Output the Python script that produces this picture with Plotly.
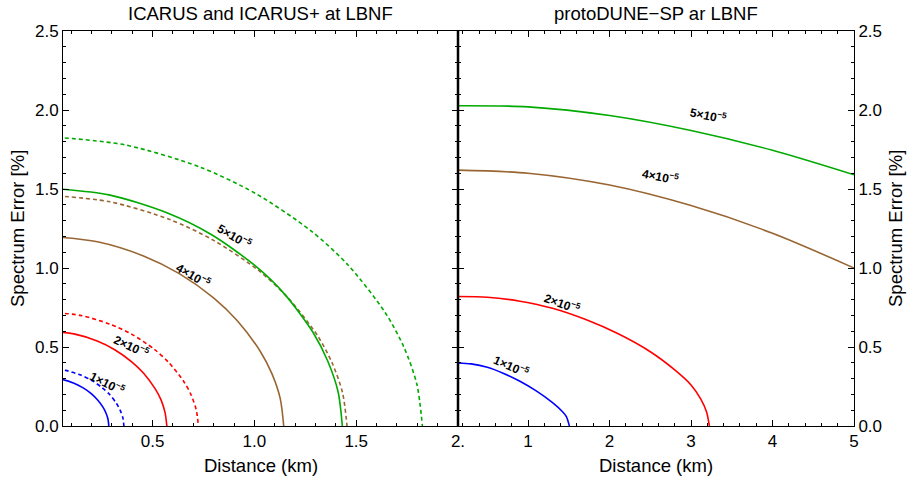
import plotly.graph_objects as go

# ---------------- data ----------------
# Left panel: ICARUS (solid) / ICARUS+ (dashed); distance (km) vs spectrum error (%)
ic_1e5_d = [0, 0.057, 0.114, 0.157, 0.200, 0.228, 0.257, 0.271, 0.281, 0.285]
ic_1e5_e = [0.302, 0.294, 0.271, 0.243, 0.204, 0.168, 0.118, 0.082, 0.043, 0]
icp_1e5_d = [0, 0.072, 0.144, 0.197, 0.251, 0.287, 0.323, 0.341, 0.354, 0.359]
icp_1e5_e = [0.362, 0.352, 0.324, 0.291, 0.244, 0.202, 0.142, 0.099, 0.052, 0]
ic_2e5_d = [0, 0.114, 0.228, 0.314, 0.399, 0.456, 0.513, 0.542, 0.561, 0.570]
ic_2e5_e = [0.600, 0.583, 0.538, 0.483, 0.405, 0.334, 0.235, 0.164, 0.086, 0]
icp_2e5_d = [0, 0.145, 0.290, 0.399, 0.508, 0.580, 0.653, 0.689, 0.714, 0.725]
icp_2e5_e = [0.720, 0.700, 0.645, 0.580, 0.486, 0.401, 0.282, 0.197, 0.104, 0]
ic_4e5_d = [0, 0.229, 0.458, 0.629, 0.801, 0.915, 1.030, 1.087, 1.127, 1.144]
ic_4e5_e = [1.200, 1.166, 1.075, 0.966, 0.810, 0.668, 0.470, 0.328, 0.173, 0]
icp_4e5_d = [0, 0.291, 0.582, 0.800, 1.019, 1.164, 1.310, 1.382, 1.433, 1.455]
icp_4e5_e = [1.460, 1.419, 1.308, 1.175, 0.986, 0.813, 0.572, 0.399, 0.210, 0]
ic_5e5_d = [0, 0.286, 0.573, 0.788, 1.002, 1.146, 1.289, 1.360, 1.411, 1.432]
ic_5e5_e = [1.505, 1.463, 1.348, 1.212, 1.016, 0.838, 0.590, 0.411, 0.217, 0]
icp_5e5_d = [0, 0.365, 0.730, 1.004, 1.278, 1.460, 1.643, 1.734, 1.798, 1.825]
icp_5e5_e = [1.830, 1.779, 1.640, 1.473, 1.235, 1.019, 0.717, 0.500, 0.264, 0]

# Right panel: protoDUNE-SP
pd_1e5_d = [0.1, 0.3, 0.5, 0.7, 0.9, 1.1, 1.3, 1.42, 1.47, 1.507]
pd_1e5_e = [0.400, 0.393, 0.372, 0.333, 0.283, 0.222, 0.148, 0.092, 0.060, 0]
pd_2e5_d = [0.1, 0.5, 0.9, 1.3, 1.7, 2.1, 2.5, 2.8, 3.0, 3.12, 3.19, 3.225]
pd_2e5_e = [0.82, 0.815, 0.79, 0.745, 0.675, 0.585, 0.47, 0.355, 0.26, 0.17, 0.09, 0]
pd_4e5_d = [0.1, 1.0, 2.0, 3.0, 4.0, 5.0]
pd_4e5_e = [1.62, 1.60, 1.525, 1.395, 1.22, 1.00]
pd_5e5_d = [0.1, 1.0, 2.0, 3.0, 4.0, 5.0]
pd_5e5_e = [2.027, 2.02, 1.965, 1.87, 1.745, 1.59]

# contour label texts and positions (data coords)
lbl_text = ["1×10<sup>−5</sup>", "2×10<sup>−5</sup>", "4×10<sup>−5</sup>", "5×10<sup>−5</sup>"]
lbl_left_d = [0.279, 0.397, 0.70, 0.903]
lbl_left_e = [0.272, 0.506, 0.955, 1.20]
lbl_left_ang = [27, 25, 30, 30]
lbl_right_d = [0.80, 1.42, 2.62, 3.21]
lbl_right_e = [0.38, 0.78, 1.58, 1.97]
lbl_right_ang = [24, 20, 11, 12]

y_ticks = [0, 0.5, 1.0, 1.5, 2.0, 2.5]
x_left_ticks = [0.5, 1.0, 1.5, 2.0]
x_left_ticktext = ["0.5", "1.0", "1.5", "2."]
x_right_ticks = [1, 2, 3, 4, 5]

# ---------------- styling ----------------
BLUE, RED, BROWN, GREEN = "#0000ff", "#ff0000", "#996633", "#00aa00"
FONT = "Liberation Sans, Arial, sans-serif"
LW = 1.6
DASH = "4px,3px"

fig = go.Figure()

left_curves = [
    (ic_1e5_d, ic_1e5_e, BLUE, "solid"), (icp_1e5_d, icp_1e5_e, BLUE, DASH),
    (ic_2e5_d, ic_2e5_e, RED, "solid"), (icp_2e5_d, icp_2e5_e, RED, DASH),
    (ic_4e5_d, ic_4e5_e, BROWN, "solid"), (icp_4e5_d, icp_4e5_e, BROWN, DASH),
    (ic_5e5_d, ic_5e5_e, GREEN, "solid"), (icp_5e5_d, icp_5e5_e, GREEN, DASH),
]
for d, e, c, dash in left_curves:
    fig.add_trace(go.Scatter(x=d, y=e, mode="lines", xaxis="x", yaxis="y",
                             line=dict(color=c, width=LW, dash=dash, shape="spline", smoothing=0.8),
                             showlegend=False, hoverinfo="skip"))

right_curves = [
    (pd_1e5_d, pd_1e5_e, BLUE), (pd_2e5_d, pd_2e5_e, RED),
    (pd_4e5_d, pd_4e5_e, BROWN), (pd_5e5_d, pd_5e5_e, GREEN),
]
for d, e, c in right_curves:
    fig.add_trace(go.Scatter(x=d, y=e, mode="lines", xaxis="x2", yaxis="y2",
                             line=dict(color=c, width=LW, shape="spline", smoothing=0.8),
                             showlegend=False, hoverinfo="skip"))

annotations = []
lbl_font = dict(family=FONT, size=12, color="black")
for t, x, y, a in zip(lbl_text, lbl_left_d, lbl_left_e, lbl_left_ang):
    annotations.append(dict(text="<b>" + t + "</b>", x=x, y=y, xref="x", yref="y",
                            showarrow=False, textangle=a, font=lbl_font))
for t, x, y, a in zip(lbl_text, lbl_right_d, lbl_right_e, lbl_right_ang):
    annotations.append(dict(text="<b>" + t + "</b>", x=x, y=y, xref="x2", yref="y2",
                            showarrow=False, textangle=a, font=lbl_font))

title_font = dict(family=FONT, size=18.5, color="black")
annotations += [
    dict(text="ICARUS and ICARUS+ at LBNF", x=0.5, y=1, xref="x domain", yref="paper",
         yanchor="bottom", yshift=5, showarrow=False, font=title_font),
    dict(text="protoDUNE−SP ar LBNF", x=0.5, y=1, xref="x2 domain", yref="paper",
         yanchor="bottom", yshift=5, showarrow=False, font=title_font),
    dict(text="Distance (km)", x=0.5, y=0, xref="x domain", yref="paper",
         yanchor="top", yshift=-27, showarrow=False, font=title_font),
    dict(text="Distance (km)", x=0.5, y=0, xref="x2 domain", yref="paper",
         yanchor="top", yshift=-27, showarrow=False, font=title_font),
    dict(text="Spectrum Error [%]", x=0, y=0.5, xref="x domain", yref="paper",
         xanchor="right", xshift=-33, textangle=-90, showarrow=False, font=title_font),
    dict(text="Spectrum Error [%]", x=1, y=0.5, xref="x2 domain", yref="paper",
         xanchor="left", xshift=29, textangle=-90, showarrow=False, font=title_font),
]

tick_font = dict(family=FONT, size=17, color="black")
common = dict(showgrid=False, zeroline=False, showline=True, linecolor="black", linewidth=1,
              ticks="inside", ticklen=6, tickcolor="black", mirror="ticks",
              tickfont=tick_font)

split = 395 / 791
fig.update_layout(
    width=910, height=481,
    margin=dict(l=63, r=56, t=31, b=55),
    paper_bgcolor="white", plot_bgcolor="white",
    xaxis=dict(domain=[0, split], range=[0.06, 2.0], tickmode="array",
               tickvals=x_left_ticks, ticktext=x_left_ticktext, anchor="y",
               minor=dict(ticks="inside", tickmode="linear", tick0=0, dtick=0.1,
                          ticklen=3, tickcolor="black"), **common),
    yaxis=dict(domain=[0, 1], range=[0, 2.5], tickmode="array", tickvals=y_ticks,
               tickformat=".1f", anchor="x",
               minor=dict(ticks="inside", tickmode="linear", tick0=0, dtick=0.1,
                          ticklen=3, tickcolor="black"), **common),
    xaxis2=dict(domain=[split, 1], range=[0.14, 5.0], tickmode="array",
                tickvals=x_right_ticks, anchor="y2",
                minor=dict(ticks="inside", tickmode="linear", tick0=0, dtick=0.2,
                           ticklen=3, tickcolor="black"), **common),
    yaxis2=dict(domain=[0, 1], range=[0, 2.5], tickmode="array", tickvals=y_ticks,
                tickformat=".1f", anchor="x2", side="right",
                minor=dict(ticks="inside", tickmode="linear", tick0=0, dtick=0.1,
                           ticklen=3, tickcolor="black"), **common),
    annotations=annotations,
    shapes=[dict(type="line", xref="x2 domain", yref="y2 domain", x0=0, x1=0, y0=0, y1=1,
                 line=dict(color="black", width=2.5))],
)

fig.write_html("out.html", config={"displayModeBar": False},
               post_script="document.body.style.margin='0px';document.body.style.overflow='hidden';")
